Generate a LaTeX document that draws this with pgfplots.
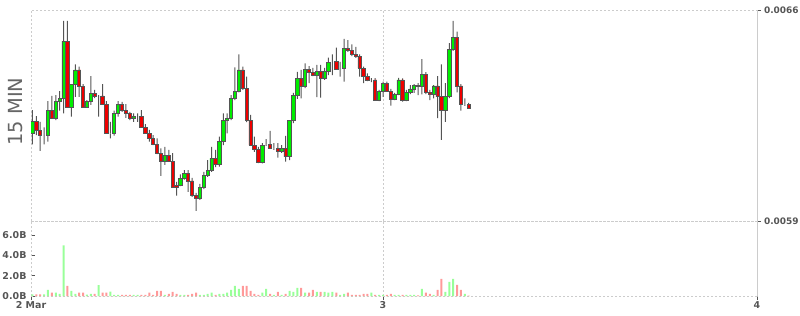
\documentclass[border=0pt]{standalone}
\usepackage{fontspec}
\setmainfont{DejaVu Sans}
\usepackage{pgfplots}
\usepackage{pgfplotstable}
\pgfplotsset{compat=1.18}
\definecolor{gridgray}{HTML}{CCCCCC}
\definecolor{labgray}{HTML}{555555}
\definecolor{titlegray}{HTML}{666666}
\definecolor{edgegray}{HTML}{555555}
\definecolor{upgreen}{HTML}{00EE00}
\definecolor{downred}{HTML}{EE0000}
\definecolor{volgreen}{HTML}{99FF99}
\definecolor{volred}{HTML}{FF9999}

\pgfplotstableread{
x o h l c v
1.50 0.006191 0.006268 0.006154 0.006229 0.15
1.75 0.006229 0.006248 0.006185 0.006202 0.15
2.00 0.006200 0.006229 0.006133 0.006185 0.15
2.25 0.006185 0.006211 0.006154 0.006185 0.15
2.50 0.006185 0.006298 0.006163 0.006266 0.6
2.75 0.006266 0.006315 0.006241 0.006241 0.33
3.00 0.006241 0.006318 0.006235 0.006296 0.33
3.25 0.006296 0.006331 0.006266 0.006307 0.2
3.50 0.006307 0.006564 0.006257 0.006497 5.0
3.75 0.006497 0.006564 0.006277 0.006277 1.0
4.00 0.006277 0.006354 0.006246 0.006354 0.5
4.25 0.006354 0.006420 0.006312 0.006401 0.2
4.50 0.006401 0.006412 0.006312 0.006346 0.33
4.75 0.006346 0.006354 0.006277 0.006277 0.33
5.00 0.006277 0.006301 0.006275 0.006296 0.13
5.25 0.006296 0.006381 0.006285 0.006324 0.2
5.50 0.006324 0.006335 0.006308 0.006312 0.2
5.75 0.006315 0.006318 0.006246 0.006315 1.08
6.00 0.006315 0.006354 0.006285 0.006287 0.33
6.25 0.006287 0.006298 0.006191 0.006191 0.33
6.50 0.006191 0.006229 0.006174 0.006191 0.43
6.75 0.006191 0.006266 0.006183 0.006257 0.1
7.00 0.006257 0.006298 0.006246 0.006287 0.1
7.25 0.006287 0.006295 0.006262 0.006266 0.1
7.50 0.006266 0.006288 0.006242 0.006257 0.1
7.75 0.006257 0.006262 0.006235 0.006241 0.1
8.00 0.006241 0.006257 0.006229 0.006246 0.1
8.25 0.006248 0.006257 0.006229 0.006248 0.1
8.50 0.006248 0.006268 0.006211 0.006211 0.1
8.75 0.006211 0.006221 0.006189 0.006191 0.1
9.00 0.006191 0.006202 0.006163 0.006174 0.33
9.25 0.006174 0.006185 0.006152 0.006154 0.1
9.50 0.006154 0.006174 0.006122 0.006125 0.5
9.75 0.006125 0.006141 0.006050 0.006099 0.5
10.00 0.006099 0.006146 0.006086 0.006117 0.1
10.25 0.006117 0.006136 0.006096 0.006099 0.2
10.50 0.006099 0.006125 0.006012 0.006012 0.4
10.75 0.006019 0.006030 0.005984 0.006012 0.2
11.00 0.006019 0.006055 0.006016 0.006042 0.1
11.25 0.006042 0.006069 0.006037 0.006058 0.1
11.50 0.006058 0.006069 0.005997 0.006033 0.1
11.75 0.006033 0.006043 0.005980 0.005986 0.2
12.00 0.005986 0.005993 0.005934 0.005975 0.33
12.25 0.005975 0.006023 0.005970 0.006012 0.1
12.50 0.006012 0.006063 0.006006 0.006050 0.1
12.75 0.006050 0.006102 0.006046 0.006069 0.2
13.00 0.006069 0.006146 0.006063 0.006108 0.33
13.25 0.006108 0.006136 0.006079 0.006089 0.1
13.50 0.006089 0.006180 0.006080 0.006163 0.2
13.75 0.006163 0.006257 0.006152 0.006233 0.2
14.00 0.006233 0.006257 0.006191 0.006241 0.33
14.25 0.006241 0.006318 0.006235 0.006307 0.6
14.50 0.006307 0.006410 0.006301 0.006329 1.0
14.75 0.006329 0.006453 0.006327 0.006401 0.7
15.00 0.006401 0.006412 0.006335 0.006340 1.0
15.25 0.006340 0.006379 0.006228 0.006233 1.0
15.50 0.006233 0.006252 0.006149 0.006152 0.5
15.75 0.006152 0.006180 0.006129 0.006136 0.2
16.00 0.006136 0.006146 0.006092 0.006095 0.1
16.25 0.006095 0.006158 0.006091 0.006150 0.33
16.50 0.006154 0.006172 0.006149 0.006154 0.7
16.75 0.006154 0.006199 0.006139 0.006141 0.2
17.00 0.006141 0.006158 0.006136 0.006141 0.1
17.25 0.006141 0.006158 0.006110 0.006132 0.4
17.50 0.006132 0.006152 0.006126 0.006141 0.1
17.75 0.006141 0.006182 0.006097 0.006113 0.2
18.00 0.006113 0.006235 0.006102 0.006233 0.5
18.25 0.006233 0.006325 0.006225 0.006316 0.4
18.50 0.006316 0.006395 0.006305 0.006373 0.8
18.75 0.006373 0.006401 0.006307 0.006348 0.8
19.00 0.006348 0.006423 0.006341 0.006404 0.33
19.25 0.006404 0.006414 0.006357 0.006393 0.33
19.50 0.006393 0.006408 0.006381 0.006384 0.6
19.75 0.006384 0.006418 0.006311 0.006395 0.4
20.00 0.006395 0.006418 0.006309 0.006373 0.4
20.25 0.006373 0.006408 0.006368 0.006395 0.4
20.50 0.006395 0.006442 0.006384 0.006426 0.33
20.75 0.006428 0.006453 0.006384 0.006428 0.4
21.00 0.006428 0.006475 0.006401 0.006404 0.33
21.25 0.006407 0.006428 0.006379 0.006407 0.1
21.50 0.006407 0.006504 0.006362 0.006473 0.2
21.75 0.006473 0.006500 0.006461 0.006467 0.33
22.00 0.006467 0.006486 0.006447 0.006453 0.1
22.25 0.006453 0.006478 0.006441 0.006445 0.1
22.50 0.006445 0.006453 0.006379 0.006407 0.1
22.75 0.006407 0.006412 0.006357 0.006379 0.2
23.00 0.006379 0.006390 0.006364 0.006368 0.2
23.25 0.006368 0.006374 0.006361 0.006368 0.33
23.50 0.006368 0.006374 0.006301 0.006301 0.1
23.75 0.006301 0.006335 0.006298 0.006331 0.1
24.00 0.006331 0.006362 0.006312 0.006357 0.1
24.25 0.006357 0.006362 0.006328 0.006331 0.1
24.50 0.006331 0.006338 0.006283 0.006305 0.2
24.75 0.006305 0.006325 0.006301 0.006320 0.1
25.00 0.006320 0.006375 0.006318 0.006368 0.1
25.25 0.006368 0.006373 0.006296 0.006301 0.1
25.50 0.006301 0.006335 0.006298 0.006327 0.1
25.75 0.006327 0.006351 0.006321 0.006338 0.1
26.00 0.006338 0.006354 0.006325 0.006349 0.1
26.25 0.006349 0.006357 0.006318 0.006345 0.05
26.50 0.006345 0.006437 0.006320 0.006387 0.7
26.75 0.006387 0.006394 0.006321 0.006327 0.33
27.00 0.006327 0.006335 0.006301 0.006320 0.2
27.25 0.006320 0.006351 0.006307 0.006348 0.1
27.50 0.006348 0.006381 0.006241 0.006312 0.6
27.75 0.006312 0.006420 0.006169 0.006268 1.7
28.00 0.006268 0.006357 0.006229 0.006312 0.4
28.25 0.006312 0.006490 0.006308 0.006470 1.4
28.50 0.006470 0.006564 0.006464 0.006509 1.7
28.75 0.006509 0.006528 0.006327 0.006348 1.1
29.00 0.006348 0.006354 0.006266 0.006287 0.6
29.25 0.006287 0.006307 0.006282 0.006287 0.2
29.50 0.006287 0.006292 0.006272 0.006274 0.03
}\data

\pgfplotsset{
  chartbase/.style={
    scale only axis, width=726bp,
    xmin=1.41, xmax=48,
    axis line style={draw=gridgray, line width=0.8bp, dash pattern=on 2bp off 2bp},
    grid style={draw=gridgray, line width=0.8bp, dash pattern=on 2bp off 2bp},
    xmajorgrids,
    xtick={1.41,24,48},
    tick align=outside,
    major tick length=4bp,
    every tick/.style={draw=labgray, line width=0.8bp},
    every tick label/.append style={font=\bfseries\fontsize{9.5}{11}\selectfont, text=labgray},
    /pgf/number format/assume math mode=true,
    scaled y ticks=false,
  }
}

\begin{document}
\begin{tikzpicture}[x=1bp,y=1bp]
\useasboundingbox (0,0) rectangle (800,315);

% price panel
\begin{axis}[chartbase,
  at={(31bp,94bp)}, anchor=south west, height=211bp,
  ymin=0.0059, ymax=0.0066,
  ytick={0.0059,0.0066}, yticklabels={0.0059,0.0066},
  ytick pos=right, yticklabel pos=right,
  yticklabel style={font=\bfseries\fontsize{9}{11}\selectfont, xshift=-0.5bp},
  xticklabels={}, x tick style={draw=none},
  ybar stacked,
]
\addplot[draw=none, fill=none, bar width=1bp] table[x=x, y expr={\thisrow{l}}] {\data};
\addplot[draw=none, fill=edgegray, bar width=1bp] table[x=x, y expr={min(\thisrow{o},\thisrow{c})-\thisrow{l}}] {\data};
\addplot[draw=edgegray, line width=0.8bp, fill=upgreen, bar width=3.3bp] table[x=x, y expr={max(\thisrow{c}-\thisrow{o},0)}] {\data};
\addplot[draw=edgegray, line width=0.8bp, fill=downred, bar width=3.3bp] table[x=x, y expr={max(\thisrow{o}-\thisrow{c},0)}] {\data};
\addplot[draw=none, fill=edgegray, bar width=1bp] table[x=x, y expr={\thisrow{h}-max(\thisrow{o},\thisrow{c})}] {\data};
\end{axis}

% volume panel
\begin{axis}[chartbase,
  at={(31bp,19bp)}, anchor=south west, height=75bp,
  ymin=0, ymax=7.4,
  ytick={0,2,4,6}, yticklabels={0.0B,2.0B,4.0B,6.0B},
  ytick pos=left, xtick pos=left,
  y tick style={xshift=4bp},
  yticklabel style={xshift=3bp},
  xticklabels={2 Mar,3,4},
  xticklabel style={inner sep=1.5bp},
  ybar, bar width=2bp,
]
\addplot[draw=none, fill=volgreen, bar shift=0pt] table[x=x, y expr={\thisrow{c}>=\thisrow{o} ? \thisrow{v} : 0}] {\data};
\addplot[draw=none, fill=volred, bar shift=0pt] table[x=x, y expr={\thisrow{c}<\thisrow{o} ? \thisrow{v} : 0}] {\data};
\end{axis}

\node[rotate=90, text=titlegray, font=\fontsize{19.5}{22}\selectfont] at (15.8bp,203.5bp) {15 MIN};
\end{tikzpicture}
\end{document}
